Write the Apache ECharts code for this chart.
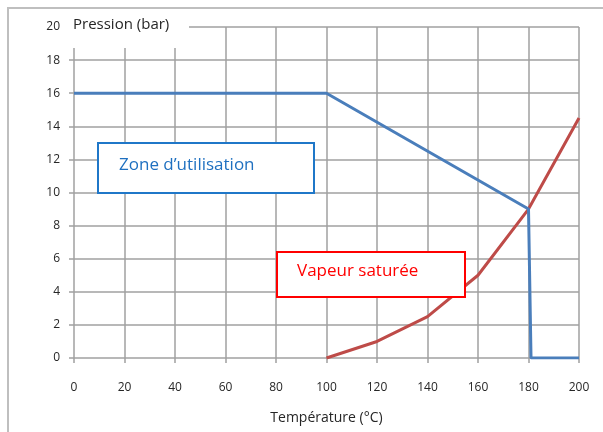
<!DOCTYPE html>
<html><head><meta charset="utf-8">
<script src="https://cdn.jsdelivr.net/npm/echarts@6/dist/echarts.min.js"></script>
<style>html,body{margin:0;padding:0;background:#fff}#c{width:603px;height:432px}</style>
</head><body><div id="c"></div>
<script>
const xTicks = [0,20,40,60,80,100,120,140,160,180,200];
const yTicks = [0,2,4,6,8,10,12,14,16,18,20];
const usageT = [0,100,180,181,200];
const usageP = [16,16,9,0,0];
const vaporT = [100,120,140,160,180,200];
const vaporP = [0,1,2.5,5,9,14.5];

const chart = echarts.init(document.getElementById('c'));
const font = '"Open Sans", sans-serif';
const gridColor = '#a0a0a0';
chart.setOption({
  animation:false,
  grid:{left:74,right:24,top:27,bottom:74},
  xAxis:{type:'value',min:xTicks[0],max:xTicks[xTicks.length-1],interval:20,
    name:'Température (°C)',nameLocation:'middle',nameGap:53,
    nameTextStyle:{fontFamily:font,fontSize:14,color:'#262626'},
    axisLine:{show:false},
    axisTick:{show:true,length:5,lineStyle:{color:gridColor,width:1.5}},
    axisLabel:{fontFamily:font,fontSize:12,color:'#262626',margin:24},
    splitLine:{show:true,lineStyle:{color:gridColor,width:1.5}}},
  yAxis:{type:'value',min:yTicks[0],max:yTicks[yTicks.length-1],interval:2,
    axisLine:{show:false},
    axisTick:{show:true,length:5,lineStyle:{color:gridColor,width:1.5}},
    axisLabel:{fontFamily:font,fontSize:12,color:'#262626',margin:14},
    splitLine:{show:true,lineStyle:{color:gridColor,width:1.5}}},
  series:[
    {type:'line',data:usageT.map((t,i)=>[t,usageP[i]]),symbol:'none',
      lineStyle:{color:'#4a7ebb',width:3},z:3},
    {type:'line',data:vaporT.map((t,i)=>[t,vaporP[i]]),symbol:'none',
      lineStyle:{color:'#be4b48',width:3},z:2}
  ],
  graphic:[
    {type:'rect',z:100,shape:{x:8,y:8,width:620,height:440},style:{fill:'none',stroke:'#bfbfbf',lineWidth:2}},
    {type:'rect',z:100,shape:{x:66,y:14,width:123,height:34},style:{fill:'#fff'}},
    {type:'text',z:101,left:73,top:17,style:{text:'Pression (bar)',font:'15px '+font,fill:'#262626'}},
    {type:'rect',z:100,shape:{x:98,y:143,width:216,height:50},style:{fill:'#fff',stroke:'#1f77c8',lineWidth:2}},
    {type:'text',z:101,left:119,top:157,style:{text:'Zone d’utilisation',font:'17px '+font,fill:'#1f70c0'}},
    {type:'rect',z:100,shape:{x:277,y:252,width:188,height:45},style:{fill:'#fff',stroke:'#ff0000',lineWidth:2}},
    {type:'text',z:101,left:297,top:263,style:{text:'Vapeur saturée',font:'17px '+font,fill:'#ff0000'}}
  ]
});
</script></body></html>
